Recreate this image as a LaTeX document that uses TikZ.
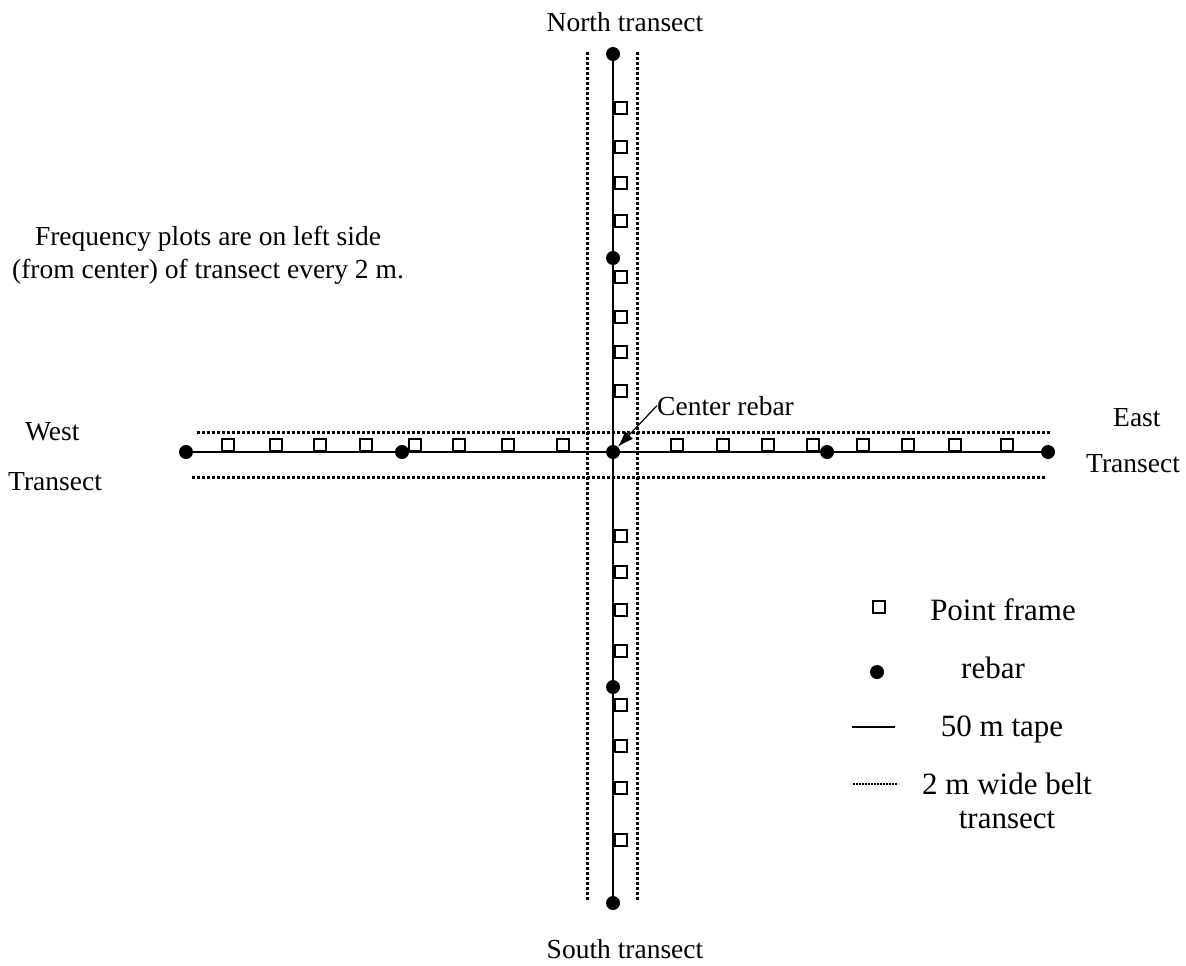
\documentclass[tikz,border=0pt]{standalone}
\usepackage{fontspec}
\setmainfont{Liberation Serif}
\usetikzlibrary{arrows.meta}

\begin{document}
\begin{tikzpicture}[x=1pt,y=-1pt,
    txt/.style={inner sep=0pt,font=\fontsize{27.5}{33}\selectfont},
    keytxt/.style={inner sep=0pt,font=\fontsize{31}{34}\selectfont},
    rebar/.style={circle,fill=black,inner sep=0pt,minimum size=14pt},
    frame/.style={rectangle,draw,line width=1.3pt,inner sep=0pt,minimum size=12pt},
    tape/.style={line width=1.6pt},
    belt/.style={line width=3pt,dash pattern=on 3pt off 2pt}]
     \useasboundingbox (0,0) rectangle (1186,966);
     % rebars along the two tapes
     \node[rebar] (c) at (613,452) {};
     \node[rebar] (n2) at (613,54) {};
     \node[rebar] (n1) at (613,258) {};
     \node[rebar] (s1) at (613,687) {};
     \node[rebar] (s2) at (613,903) {};
     \node[rebar] (w2) at (186,452) {};
     \node[rebar] (w1) at (402,452) {};
     \node[rebar] (e1) at (827,452) {};
     \node[rebar] (e2) at (1048,452) {};
     % belt edges
     \coordinate (bnw) at (587,52);
     \coordinate (bsw) at (587,902);
     \coordinate (bne) at (637,52);
     \coordinate (bse) at (637,902);
     \coordinate (bwn) at (197,432);
     \coordinate (ben) at (1050,432);
     \coordinate (bws) at (192,477);
     \coordinate (bes) at (1045,477);
     \draw[belt] (bnw) -- (bsw);
     \draw[belt] (bne) -- (bse);
     \draw[belt] (bwn) -- (ben);
     \draw[belt] (bws) -- (bes);
     % tapes
     \draw[tape] (n2) -- (n1) -- (c) -- (s1) -- (s2);
     \draw[tape] (w2) -- (w1) -- (c) -- (e1) -- (e2);
     % point frames
     \foreach \y in {108,147,183,221,277,317,352,391,536,572,610,651,705,746,788,840}
       \node[frame] (fv\y) at (621,\y) {};
     \foreach \x in {228,276,320,366,415,459,508,563,677,723,768,813,863,908,955,1007}
       \node[frame] (fh\x) at (\x,445) {};
     % transect names
     \node[txt,anchor=base] (north) at (625,32) {North transect};
     \node[txt,anchor=base] (south) at (625,958) {South transect};
     \node[txt,anchor=base west] (west) at (25,440) {West};
     \node[txt,anchor=base west] (westt) at (8,490) {Transect};
     \node[txt,anchor=base west] (east) at (1113,426) {East};
     \node[txt,anchor=base west] (eastt) at (1086,472) {Transect};
     \node[txt,anchor=base,align=center] (freq) at (208,278)
       {Frequency plots are on left side\\(from center) of transect every 2 m.};
     \node[txt,anchor=base west] (clabel) at (657,415) {Center rebar};
     \draw[line width=1.2pt,-{Latex[length=16pt,width=11pt]}] (clabel.west) -- (c);
     % legend
     \node[frame] (kframe) at (879,607) {};
     \node[keytxt,anchor=base] (kframet) at (1003,620) {Point frame};
     \node[rebar] (krebar) at (877,672) {};
     \node[keytxt,anchor=base] (krebart) at (993,678) {rebar};
     \coordinate (kt1) at (852,727);
     \coordinate (kt2) at (895,727);
     \draw[tape] (kt1) -- (kt2);
     \node[keytxt,anchor=base] (ktapet) at (1002,736) {50 m tape};
     \coordinate (kb1) at (853,784);
     \coordinate (kb2) at (898,784);
     \draw[line width=2pt,dash pattern=on 2pt off 1pt] (kb1) -- (kb2);
     \node[keytxt,anchor=base,align=center] (kbeltt) at (1007,828) {2 m wide belt\\transect};
\end{tikzpicture}
\end{document}
